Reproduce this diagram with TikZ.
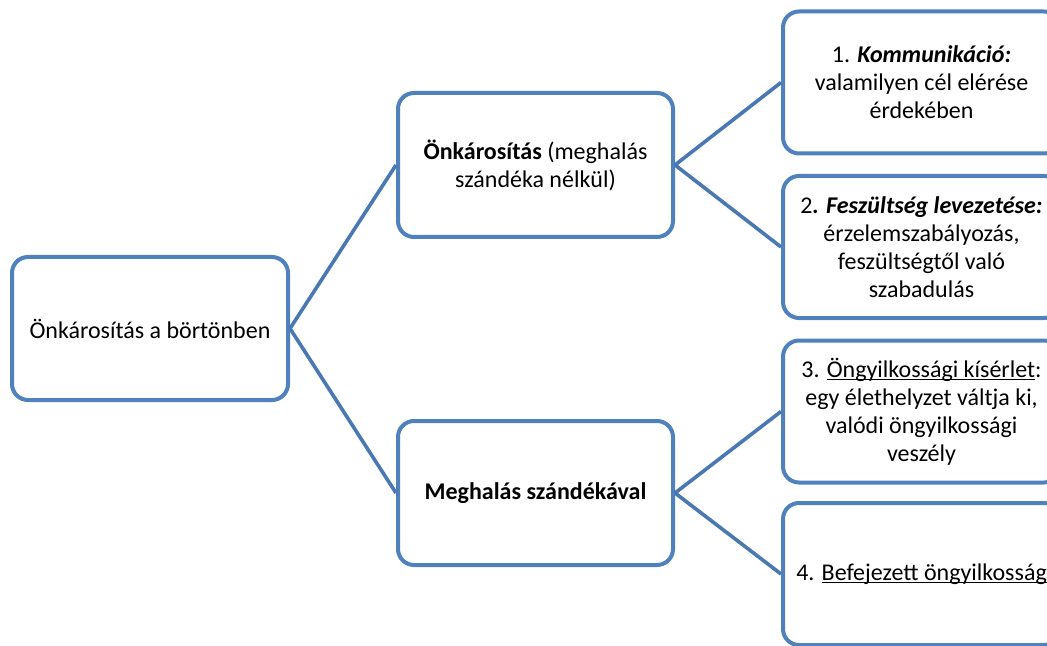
\documentclass[tikz,border=0pt]{standalone}
\usepackage{fontspec}
\setmainfont{Carlito}
\definecolor{boxblue}{HTML}{4F81BD}
\definecolor{linkblue}{HTML}{4A78B2}
\newcommand\ulin[1]{\setbox0=\hbox{#1}\rlap{\rule[-1.4pt]{\wd0}{0.6pt}}\box0}
\begin{document}
\begin{tikzpicture}[x=0.5pt,y=-0.5pt,
  box/.style={draw=boxblue, line width=2pt, rounded corners=8pt, fill=white,
    align=center, inner sep=1pt, font=\fontsize{12}{14}\selectfont},
  rootbox/.style={box, minimum width=138pt, minimum height=71.5pt},
  midbox/.style={box, minimum width=137.5pt, minimum height=72pt},
  leafbox/.style={box, minimum width=138.5pt, minimum height=71pt},
  link/.style={draw=linkblue, line width=1.8pt}]
\useasboundingbox (0,0) rectangle (1047,646);
\clip (0,0) rectangle (1047,646);
\node[rootbox] (root) at (150,328.5) {Önkárosítás a börtönben};
\node[midbox] (m1) at (535.5,165) {\textbf{Önkárosítás} (meghalás\\szándéka nélkül)};
\node[midbox] (m2) at (535.5,493) {\textbf{Meghalás szándékával}};
\node[leafbox] (l1) at (921.5,82.5) {1. \textbf{\textit{Kommunikáció:}}\\valamilyen cél elérése\\érdekében};
\node[leafbox] (l2) at (921.5,247) {2\textbf{\textit{. Feszültség levezetése:}}\\érzelemszabályozás,\\feszültségtől való\\szabadulás};
\node[leafbox] (l3) at (921.5,411.5) {3. \ulin{Öngyilkossági kísérlet}:\\egy élethelyzet váltja ki,\\valódi öngyilkossági\\veszély};
\node[leafbox] (l4) at (921.5,574) {4. \ulin{Befejezett öngyilkosság}};
\draw[link] (root.east) -- (m1.west);
\draw[link] (root.east) -- (m2.west);
\draw[link] (m1.east) -- (l1.west);
\draw[link] (m1.east) -- (l2.west);
\draw[link] (m2.east) -- (l3.west);
\draw[link] (m2.east) -- (l4.west);
\end{tikzpicture}
\end{document}
